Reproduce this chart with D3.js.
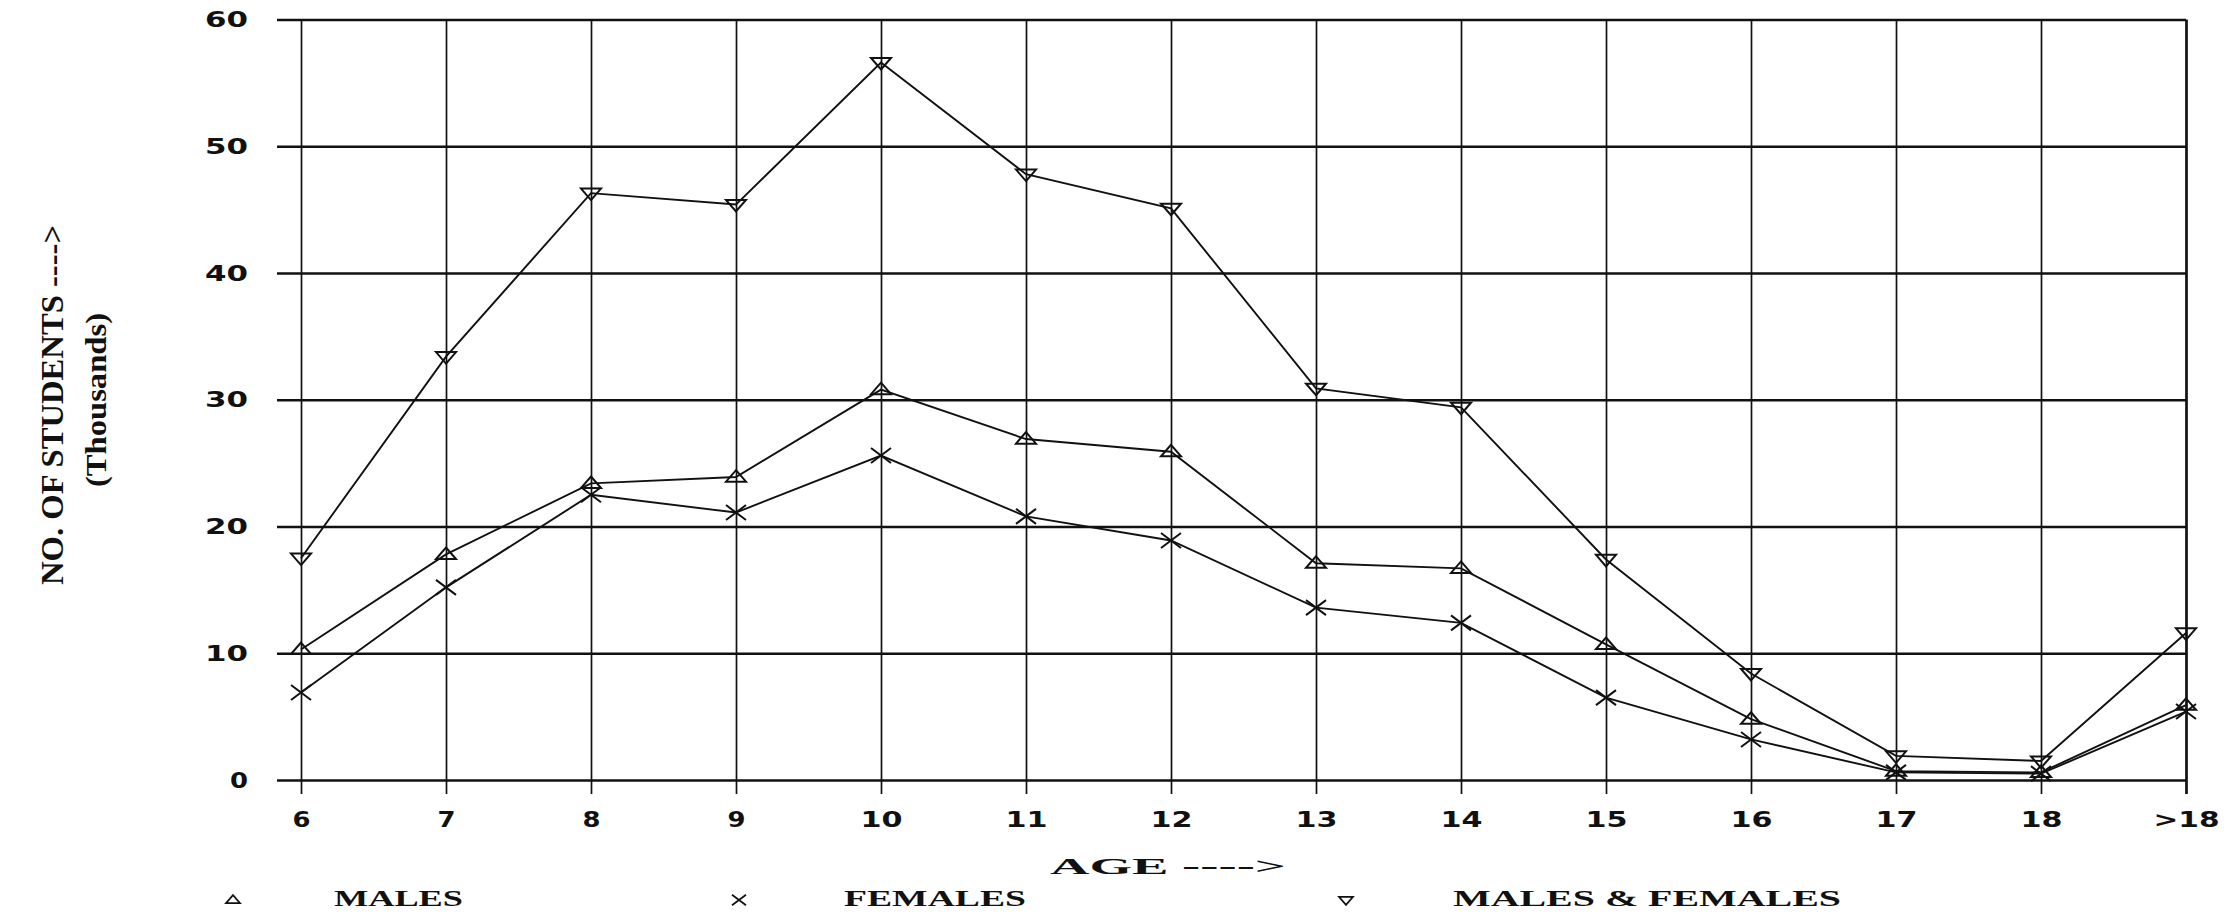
<!DOCTYPE html>
<html><head><meta charset="utf-8">
<script src="https://cdn.jsdelivr.net/npm/d3@7"></script>
<style>
html,body{margin:0;padding:0;background:#fff;}
svg{display:block;}
</style></head>
<body>
<svg id="chart" width="2230" height="919"></svg>
<script>
const ages = ["6","7","8","9","10","11","12","13","14","15","16","17","18",">18"];
const males   = [10.3,17.8,23.4,23.9,30.8,26.9,25.9,17.1,16.7,10.7,4.8,0.7,0.6,5.9];
const females = [6.9,15.2,22.5,21.1,25.6,20.8,18.9,13.6,12.4,6.5,3.2,0.6,0.5,5.4];
const total   = [17.5,33.4,46.3,45.4,56.6,47.8,45.1,30.9,29.4,17.4,8.4,1.9,1.5,11.6];
const yTicks  = [0,10,20,30,40,50,60];
const legendLabels = ["MALES","FEMALES","MALES & FEMALES"];

(function(){
const svg = d3.select("#chart");
const ink = "#111";
const pLeft = 277, pRight = 2186, pTop = 19.5, pBottom = 780;

const x = d3.scalePoint().domain(ages).range([301, pRight]);
const y = d3.scaleLinear().domain([0,60]).range([pBottom, pTop]);

// horizontal grid + y labels
const yAxis = svg.append("g").attr("transform",`translate(${pLeft},0)`)
  .call(d3.axisLeft(y).tickValues(yTicks).tickSize(-(pRight-pLeft)).tickPadding(29).tickFormat(d3.format("d")));
yAxis.select(".domain").remove();
yAxis.selectAll(".tick line").attr("stroke",ink).attr("stroke-width",2.7);
yAxis.selectAll(".tick text")
  .attr("fill",ink).attr("font-family","DejaVu Sans").attr("font-weight","bold").attr("font-size",22)
  .each(function(){ const n=this.textContent.length; d3.select(this).attr("textLength", n*18+(n-1)*7).attr("lengthAdjust","spacingAndGlyphs"); });

// vertical grid + x labels
const xAxis = svg.append("g").attr("transform",`translate(0,${pTop})`)
  .call(d3.axisBottom(x).tickSize(794-pTop).tickPadding(17));
xAxis.select(".domain").remove();
xAxis.selectAll(".tick line").attr("stroke",ink).attr("stroke-width",(d)=> d===">18"?2.7:1.7);
xAxis.selectAll(".tick text")
  .attr("fill",ink).attr("font-family","DejaVu Sans").attr("font-weight","bold").attr("font-size",22)
  .each(function(){ const n=this.textContent.length; d3.select(this).attr("textLength", n*18+(n-1)*6).attr("lengthAdjust","spacingAndGlyphs"); });

// series lines
const line = d3.line().x((d,i)=>x(ages[i])).y(d=>y(d));
const series = [
  {vals: total,   sym:"down"},
  {vals: males,   sym:"up"},
  {vals: females, sym:"x"}
];
function symPath(kind, s){
  if(kind==="x"){ const h=s; return `M${-h},${-h*0.75}L${h},${h*0.75}M${-h},${h*0.75}L${h},${-h*0.75}`; }
  const w=s, hgt=s*1.15;
  if(kind==="up") return `M0,${-hgt*0.6}L${w},${hgt*0.4}L${-w},${hgt*0.4}Z`;
  return `M0,${hgt*0.6}L${w},${-hgt*0.4}L${-w},${-hgt*0.4}Z`;
}
series.forEach(s=>{
  svg.append("path").datum(s.vals).attr("d",line).attr("fill","none").attr("stroke",ink).attr("stroke-width",1.9);
  svg.append("g").selectAll("path").data(s.vals).join("path")
    .attr("transform",(d,i)=>`translate(${x(ages[i])},${y(d)})`)
    .attr("d",symPath(s.sym, 10))
    .attr("fill","none").attr("stroke",ink).attr("stroke-width",2);
});

// axis titles
svg.append("text").attr("x",1050).attr("y",868).attr("dominant-baseline","middle")
  .attr("font-family","Liberation Serif").attr("font-weight","bold").attr("font-size",24).attr("fill",ink)
  .attr("textLength",236).attr("lengthAdjust","spacingAndGlyphs").text("AGE ---->");

svg.append("text").attr("transform","translate(56,405) rotate(-90)").attr("text-anchor","middle").attr("dominant-baseline","middle")
  .attr("font-family","Liberation Serif").attr("font-weight","bold").attr("font-size",31).attr("fill",ink)
  .attr("textLength",360).attr("lengthAdjust","spacingAndGlyphs").text("NO. OF STUDENTS ---->");
svg.append("text").attr("transform","translate(99,400) rotate(-90)").attr("text-anchor","middle").attr("dominant-baseline","middle")
  .attr("font-family","Liberation Serif").attr("font-weight","bold").attr("font-size",30).attr("fill",ink)
  .attr("textLength",174).attr("lengthAdjust","spacingAndGlyphs").text("(Thousands)");

// legend
const legItems = [
  {sym:"up",   mx:233,  tx:334,  tl:129, label:legendLabels[0]},
  {sym:"x",    mx:739,  tx:844,  tl:182, label:legendLabels[1]},
  {sym:"down", mx:1346, tx:1453, tl:388, label:legendLabels[2]}
];
const ly = 900;
legItems.forEach(it=>{
  svg.append("path").attr("transform",`translate(${it.mx},${ly})`)
    .attr("d",symPath(it.sym,7)).attr("fill","none").attr("stroke",ink).attr("stroke-width",1.7);
  svg.append("text").attr("x",it.tx).attr("y",ly).attr("dominant-baseline","middle")
    .attr("font-family","Liberation Serif").attr("font-weight","bold").attr("font-size",24).attr("fill",ink)
    .attr("textLength",it.tl).attr("lengthAdjust","spacingAndGlyphs").text(it.label);
});
})();
</script>
</body></html>
